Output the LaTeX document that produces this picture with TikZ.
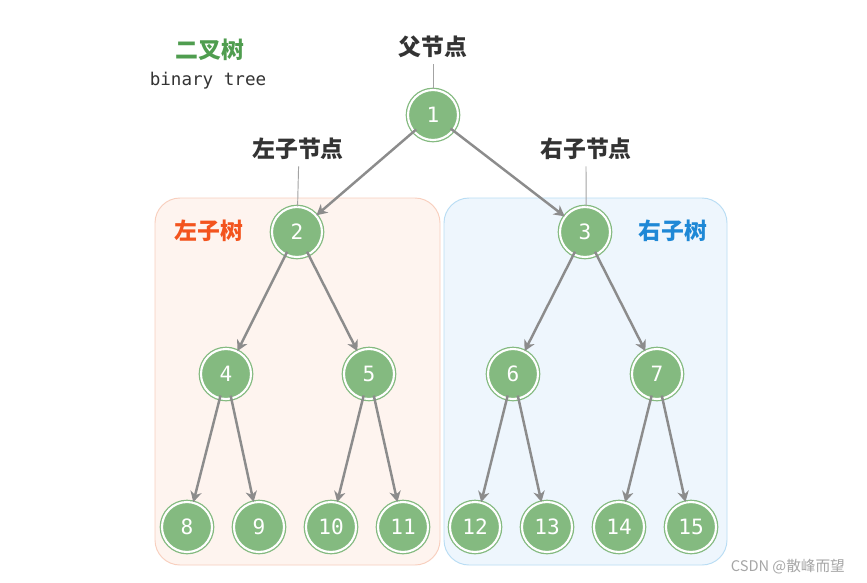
\documentclass[tikz,border=0pt]{standalone}
\usepackage{fontspec}
\usetikzlibrary{arrows.meta}
\newfontfamily\cjk{Noto Sans CJK SC}
\newfontfamily\monof{DejaVu Sans Mono}
\definecolor{nodegr}{HTML}{84BA80}
\definecolor{arrgr}{HTML}{8C8C8C}
\definecolor{ttlgr}{HTML}{4F9D4F}
\definecolor{ltred}{HTML}{F3541E}
\definecolor{rtblue}{HTML}{1E88D6}
\definecolor{ltfill}{HTML}{FEF4EF}
\definecolor{ltline}{HTML}{F8CFBE}
\definecolor{rtfill}{HTML}{EEF6FD}
\definecolor{rtline}{HTML}{B9DDF4}
\definecolor{txt}{HTML}{333333}
\tikzset{
  tnode/.style={circle,fill=nodegr,draw=nodegr,double=white,double distance=1.8pt,
    line width=1.1pt,minimum size=1.5cm,inner sep=0pt,text=white,
    font=\monof\fontsize{18}{18}\selectfont},
  childarr/.style={draw=arrgr,line width=2.1pt,shorten <=-3pt,
    -{Stealth[length=3.2mm,width=3.4mm,inset=1mm]}},
  pointer/.style={draw=arrgr!80,line width=0.8pt},
  cjklab/.style={font=\cjk\bfseries\fontsize{19.5}{20}\selectfont,text=txt},
  subtree/.style={rounded corners=0.75cm,line width=0.8pt}
}
\begin{document}
\begin{tikzpicture}[x=0.03cm,y=-0.03cm]
  \useasboundingbox[fill=white] (0,0) rectangle (867,582);
  % subtree boxes
  \draw[subtree,fill=ltfill,draw=ltline] (155,198) rectangle (440,565);
  \draw[subtree,fill=rtfill,draw=rtline] (444,198) rectangle (727,565);
  % titles
  \node[cjklab,text=ttlgr] (title) at (210,50) {二叉树};
  \node[font=\monof\fontsize{15}{15}\selectfont,text=txt] (subtitle) at (208,81) {binary tree};
  \node[cjklab,text=ltred] (lttitle) at (209,231) {左子树};
  \node[cjklab,text=rtblue] (rttitle) at (673,231) {右子树};
  % tree nodes
  \node[tnode] (n1) at (433,115) {1};
  \node[tnode] (n2) at (297,232) {2};
  \node[tnode] (n3) at (585,232) {3};
  \foreach \i/\x in {4/226,5/369,6/513,7/657}
    \node[tnode] (n\i) at (\x,374) {\i};
  \foreach \i/\x in {8/187,9/259,10/331,11/403,12/475,13/547,14/619,15/691}
    \node[tnode] (n\i) at (\x,527) {\i};
  % pointer labels
  \node[cjklab] (lbpar) at (433,47) {父节点};
  \node[cjklab] (lbleft) at (298,149) {左子节点};
  \node[cjklab] (lbright) at (586,149) {右子节点};
  \draw[pointer] ([yshift=-2pt]lbpar.south) -- (n1.north);
  \draw[pointer] ([xshift=0.5pt,yshift=-2pt]lbleft.south) -- ([xshift=0.5pt]n2.north);
  \draw[pointer] ([yshift=-2pt]lbright.south) -- ([xshift=1pt]n3.north);
  % edges
  \foreach \p/\c in {1/2,1/3,2/4,2/5,3/6,3/7,4/8,4/9,5/10,5/11,6/12,6/13,7/14,7/15}
    \draw[childarr] (n\p) -- (n\c);
  % watermark
  \node[font=\cjk\fontsize{12.5}{13}\selectfont,text=gray!70,anchor=east] (mark) at (849,567) {CSDN @散峰而望};
\end{tikzpicture}
\end{document}
